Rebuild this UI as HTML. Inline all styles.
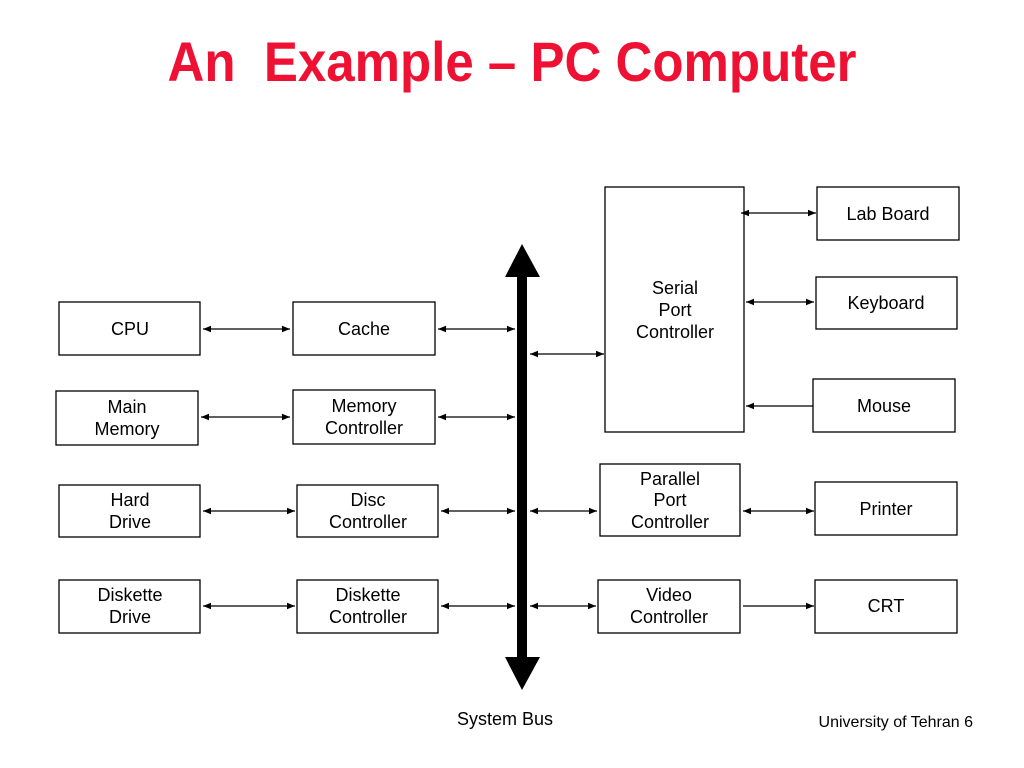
<!DOCTYPE html>
<html><head><meta charset="utf-8"><style>html,body{margin:0;padding:0;background:#fff}svg{display:block}</style></head><body>
<svg width="1024" height="768" viewBox="0 0 1024 768" xmlns="http://www.w3.org/2000/svg" font-family="Liberation Sans, sans-serif">
<defs>
<marker id="a" viewBox="0 0 10 10" refX="10" refY="5" markerWidth="8" markerHeight="8" markerUnits="userSpaceOnUse" orient="auto-start-reverse"><path d="M0,1 L10,5 L0,9 z" fill="#000"/></marker>
</defs>
<text x="512" y="81" text-anchor="middle" font-size="56" font-weight="bold" fill="#ee1133" textLength="689" lengthAdjust="spacingAndGlyphs" xml:space="preserve">An  Example – PC Computer</text>
<g fill="#fff" stroke="#000" stroke-width="1.3">
<rect x="59" y="302" width="141" height="53"/>
<rect x="293" y="302" width="142" height="53"/>
<rect x="56" y="391" width="142" height="54"/>
<rect x="293" y="390" width="142" height="54"/>
<rect x="59" y="485" width="141" height="52"/>
<rect x="297" y="485" width="141" height="52"/>
<rect x="59" y="580" width="141" height="53"/>
<rect x="297" y="580" width="141" height="53"/>
<rect x="605" y="187" width="139" height="245"/>
<rect x="817" y="187" width="142" height="53"/>
<rect x="816" y="277" width="141" height="52"/>
<rect x="813" y="379" width="142" height="53"/>
<rect x="600" y="464" width="140" height="72"/>
<rect x="815" y="482" width="142" height="53"/>
<rect x="598" y="580" width="142" height="53"/>
<rect x="815" y="580" width="142" height="53"/>
</g>
<rect x="517" y="275" width="10" height="384" fill="#000"/>
<path d="M522,244 L540,277 L505,277 z M522,690 L540,657 L505,657 z" fill="#000"/>
<g stroke="#000" stroke-width="1.3" fill="none">
<line x1="203" y1="329" x2="290" y2="329" marker-start="url(#a)" marker-end="url(#a)"/>
<line x1="438" y1="329" x2="515" y2="329" marker-start="url(#a)" marker-end="url(#a)"/>
<line x1="201" y1="417" x2="290" y2="417" marker-start="url(#a)" marker-end="url(#a)"/>
<line x1="438" y1="417" x2="515" y2="417" marker-start="url(#a)" marker-end="url(#a)"/>
<line x1="203" y1="511" x2="295" y2="511" marker-start="url(#a)" marker-end="url(#a)"/>
<line x1="441" y1="511" x2="515" y2="511" marker-start="url(#a)" marker-end="url(#a)"/>
<line x1="203" y1="606" x2="295" y2="606" marker-start="url(#a)" marker-end="url(#a)"/>
<line x1="441" y1="606" x2="515" y2="606" marker-start="url(#a)" marker-end="url(#a)"/>
<line x1="530" y1="354" x2="604" y2="354" marker-start="url(#a)" marker-end="url(#a)"/>
<line x1="530" y1="511" x2="597" y2="511" marker-start="url(#a)" marker-end="url(#a)"/>
<line x1="530" y1="606" x2="596" y2="606" marker-start="url(#a)" marker-end="url(#a)"/>
<line x1="741" y1="213" x2="816" y2="213" marker-start="url(#a)" marker-end="url(#a)"/>
<line x1="746" y1="302" x2="814" y2="302" marker-start="url(#a)" marker-end="url(#a)"/>
<line x1="813" y1="406" x2="746" y2="406" marker-end="url(#a)"/>
<line x1="743" y1="511" x2="814" y2="511" marker-start="url(#a)" marker-end="url(#a)"/>
<line x1="743" y1="606" x2="814" y2="606" marker-end="url(#a)"/>
</g>
<g font-size="18" text-anchor="middle" fill="#000">
<text x="130" y="335">CPU</text>
<text x="364" y="335">Cache</text>
<text x="127" y="413">Main</text><text x="127" y="435">Memory</text>
<text x="364" y="412">Memory</text><text x="364" y="434">Controller</text>
<text x="130" y="506">Hard</text><text x="130" y="528">Drive</text>
<text x="368" y="506">Disc</text><text x="368" y="528">Controller</text>
<text x="130" y="601">Diskette</text><text x="130" y="623">Drive</text>
<text x="368" y="601">Diskette</text><text x="368" y="623">Controller</text>
<text x="675" y="294">Serial</text><text x="675" y="316">Port</text><text x="675" y="338">Controller</text>
<text x="888" y="220">Lab Board</text>
<text x="886" y="309">Keyboard</text>
<text x="884" y="412">Mouse</text>
<text x="670" y="485">Parallel</text><text x="670" y="506">Port</text><text x="670" y="528">Controller</text>
<text x="886" y="515">Printer</text>
<text x="669" y="601">Video</text><text x="669" y="623">Controller</text>
<text x="886" y="612">CRT</text>
<text x="505" y="725">System Bus</text>
</g>
<text x="973" y="727" font-size="16" text-anchor="end">University of Tehran 6</text>
</svg>
</body></html>
